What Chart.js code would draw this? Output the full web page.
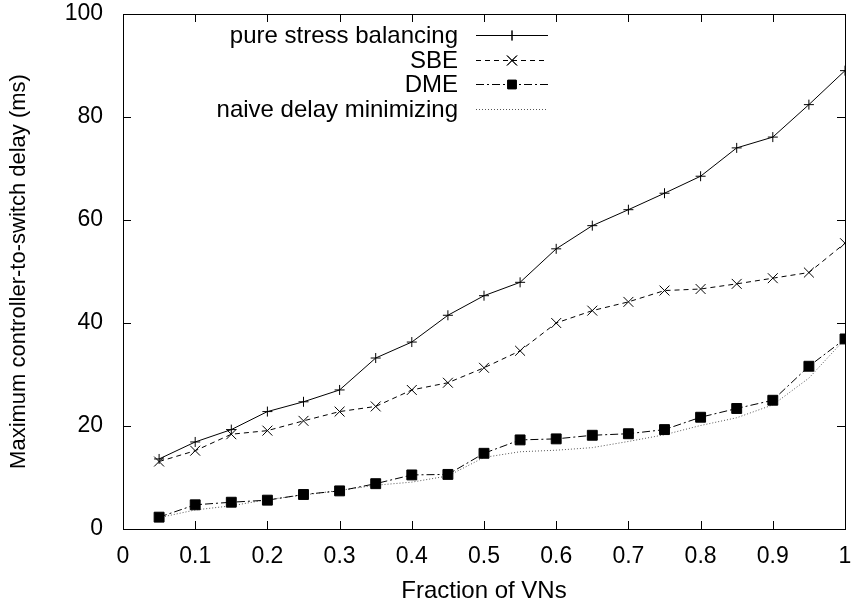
<!DOCTYPE html>
<html>
<head>
<meta charset="utf-8">
<script src="https://cdn.jsdelivr.net/npm/chart.js@4"></script>
<style>
html,body{margin:0;padding:0;background:#fff;}
#wrap{width:853px;height:603px;}
</style>
</head>
<body>
<div id="wrap"><canvas id="c" width="853" height="603"></canvas></div>
<script>
const fractions = [0.05,0.1,0.15,0.2,0.25,0.3,0.35,0.4,0.45,0.5,0.55,0.6,0.65,0.7,0.75,0.8,0.85,0.9,0.95,1.0];
const pureStress = [13.6,16.9,19.3,22.8,24.7,27.0,33.2,36.3,41.5,45.3,47.9,54.4,58.9,62.0,65.2,68.5,74.0,76.1,82.4,89.0];
const sbe = [13.1,15.2,18.4,19.1,21.0,22.8,23.8,27.0,28.4,31.3,34.6,40.0,42.4,44.1,46.3,46.6,47.6,48.7,49.8,55.5];
const dme = [2.3,4.7,5.2,5.6,6.7,7.4,8.8,10.5,10.6,14.7,17.3,17.5,18.2,18.5,19.3,21.7,23.4,25.0,31.6,36.9];
const naive = [2.2,3.7,4.5,5.7,6.6,7.5,8.5,9.1,10.3,13.9,15.0,15.3,15.8,17.0,18.3,20.1,21.6,24.1,29.3,36.9];
const seriesNames = ['pure stress balancing','SBE','DME','naive delay minimizing'];
const xTicks = [0,0.1,0.2,0.3,0.4,0.5,0.6,0.7,0.8,0.9,1];
const yTicks = [0,20,40,60,80,100];

function pts(vals){ return fractions.map((f,i)=>({x:f,y:vals[i]})); }

const FONT = '"Liberation Sans", Arial, Helvetica, sans-serif';

// gnuplot-like frame, inward ticks and legend
const framePlugin = {
  id:'frame',
  afterDraw(chart){
    const ctx = chart.ctx, a = chart.chartArea;
    const xs = chart.scales.x, ys = chart.scales.y;
    ctx.save();
    ctx.strokeStyle = '#000';
    ctx.lineWidth = 1;
    ctx.setLineDash([]);
    ctx.strokeRect(Math.round(a.left)+0.5, Math.round(a.top)+0.5, Math.round(a.right-a.left), Math.round(a.bottom-a.top));
    const tl = 8;
    ctx.beginPath();
    xTicks.forEach(v=>{
      const px = Math.round(xs.getPixelForValue(v))+0.5;
      ctx.moveTo(px,a.bottom); ctx.lineTo(px,a.bottom-tl);
      ctx.moveTo(px,a.top); ctx.lineTo(px,a.top+tl);
    });
    yTicks.forEach(v=>{
      const py = Math.round(ys.getPixelForValue(v))+0.5;
      ctx.moveTo(a.left,py); ctx.lineTo(a.left+tl,py);
      ctx.moveTo(a.right,py); ctx.lineTo(a.right-tl,py);
    });
    ctx.stroke();

    // legend
    ctx.font = '24px ' + FONT;
    ctx.textAlign = 'right';
    ctx.textBaseline = 'middle';
    chart.data.datasets.forEach((ds,i)=>{
      const y = Math.round(35 + i*24.5)+0.5;
      ctx.fillStyle = '#000';
      ctx.fillText(ds.label, 458, y+1);
      ctx.strokeStyle = ds.borderColor;
      ctx.lineWidth = ds.borderWidth;
      ctx.setLineDash(ds.borderDash || []);
      ctx.beginPath();
      ctx.moveTo(476, y); ctx.lineTo(548, y);
      ctx.stroke();
      ctx.setLineDash([]);
      if (ds.pointRadius > 0) {
        Chart.helpers.drawPoint(ctx, {
          pointStyle: ds.pointStyle, radius: ds.pointStyle === 'rect' ? 6 : ds.pointRadius, borderWidth: 1
        }, 512, y);
        ctx.fillStyle = '#000';
        if (ds.pointStyle === 'rect') ctx.fill();
        ctx.strokeStyle = '#000';
        ctx.lineWidth = 1;
        ctx.stroke();
      }
    });
    ctx.restore();
  }
};

new Chart(document.getElementById('c'),{
  type:'line',
  data:{
    datasets:[
      {label:seriesNames[0],data:pts(pureStress),borderColor:'#000',borderWidth:1,
       pointStyle:'cross',pointRadius:5,pointBorderColor:'#000',pointBorderWidth:1,pointBackgroundColor:'#000'},
      {label:seriesNames[1],data:pts(sbe),borderColor:'#000',borderWidth:1,borderDash:[5,4],
       pointStyle:'crossRot',pointRadius:7,pointBorderColor:'#000',pointBorderWidth:1,pointBackgroundColor:'#000'},
      {label:seriesNames[2],data:pts(dme),borderColor:'#000',borderWidth:1,borderDash:[8,3,2,3],
       pointStyle:'rect',pointRadius:7,pointBorderColor:'#000',pointBorderWidth:1,pointBackgroundColor:'#000'},
      {label:seriesNames[3],data:pts(naive),borderColor:'#555',borderWidth:1,borderDash:[1,2],
       pointRadius:0}
    ]
  },
  options:{
    responsive:false,
    animation:false,
    events:[],
    layout:{padding:{top:14,right:7,left:0,bottom:0}},
    plugins:{legend:{display:false},tooltip:{enabled:false}},
    scales:{
      x:{
        type:'linear',min:0,max:1,
        afterFit(s){ s.height = 74; s.paddingLeft = 0; s.paddingRight = 0; },
        afterBuildTicks(s){ s.ticks = xTicks.map(v=>({value:v})); },
        grid:{display:false},
        border:{display:false},
        ticks:{color:'#000',font:{family:FONT,size:23},padding:6,maxRotation:0,autoSkip:false,
          callback:v=>String(v)},
        title:{display:true,text:'Fraction of VNs',color:'#000',font:{family:FONT,size:24},padding:{top:4,bottom:-3}}
      },
      y:{
        type:'linear',min:0,max:100,
        afterFit(s){ s.width = 123; s.paddingTop = 0; s.paddingBottom = 0; },
        afterBuildTicks(s){ s.ticks = yTicks.map(v=>({value:v})); },
        grid:{display:false},
        border:{display:false},
        ticks:{color:'#000',font:{family:FONT,size:23},padding:12},
        title:{display:true,text:'Maximum controller-to-switch delay (ms)',color:'#000',font:{family:FONT,size:22},padding:{top:6,bottom:8}}
      }
    }
  },
  plugins:[framePlugin]
});
</script>
</body>
</html>
